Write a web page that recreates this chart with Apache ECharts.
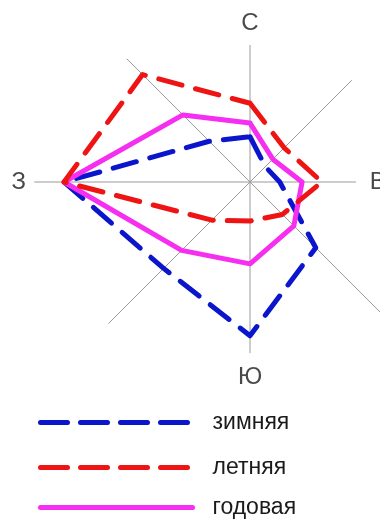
<!DOCTYPE html>
<html>
<head>
<meta charset="utf-8">
<script src="https://cdn.jsdelivr.net/npm/echarts@6/dist/echarts.min.js"></script>
<style>
html,body{margin:0;padding:0;background:#fff;}
#chart{width:380px;height:519px;}
</style>
</head>
<body>
<div id="chart"></div>
<script>
// ---- data ----
const directions = ['С', 'СВ', 'В', 'ЮВ', 'Ю', 'ЮЗ', 'З', 'СЗ'];
const directionAngles = [0, 45, 90, 135, 180, 225, 270, 315];
const seriesNames = ['зимняя', 'летняя', 'годовая'];
const winter = [7.3, 3.5, 4.8, 15.0, 24.8, 19.7, 30.0, 9.3];
const summer = [12.7, 7.8, 11.6, 7.4, 6.3, 8.7, 30.0, 24.5];
const annual = [9.5, 5.2, 8.4, 10.0, 13.2, 15.6, 30.0, 15.3];
const compassLabels = ['С', 'В', 'Ю', 'З'];
const compassAngles = [0, 90, 180, 270];

// ---- layout (axis spokes and label radii, in radius-axis units) ----
const spokeLength = [22.1, 23.2, 17.1, 30.7, 27.6, 32.3, 34.8, 28.1];
const labelRadius = [25.6, 20.6, 31.5, 37.3];

const FONT = "'Liberation Sans', Arial, sans-serif";
const colors = ['#0b16cc', '#ee1414', '#f52ef0'];
const dashType = [[24, 14], [24, 14], 'solid'];
const values = [winter, summer, annual];

function closed(arr) {
  const pts = arr.map((v, i) => [v, directionAngles[i]]);
  pts.push([arr[0], 360]);
  return pts;
}

const series = [];
// spokes
directionAngles.forEach((a, i) => {
  series.push({
    type: 'line', coordinateSystem: 'polar', silent: true, symbol: 'none',
    clip: false, z: 1,
    lineStyle: { color: '#9a9a9a', width: 1 },
    data: [[0, a], [spokeLength[i], a]]
  });
});
// compass labels
series.push({
  type: 'scatter', coordinateSystem: 'polar', silent: true, clip: false,
  symbolSize: 2, itemStyle: { color: 'rgba(0,0,0,0)' }, z: 5,
  label: { show: true, position: 'inside', formatter: '{b}', color: '#1a1a1a', fontSize: 24, fontFamily: FONT },
  data: compassLabels.map((c, i) => ({ name: c, value: [labelRadius[i], compassAngles[i]] }))
});
// data lines: winter, annual, summer (summer drawn on top)
[0, 2, 1].forEach(k => {
  series.push({
    name: seriesNames[k], type: 'line', coordinateSystem: 'polar',
    symbol: 'none', clip: false, z: 3,
    lineStyle: { color: colors[k], width: 5, type: dashType[k], cap: 'round', join: 'round' },
    itemStyle: { color: colors[k] },
    data: closed(values[k])
  });
});

const legendTops = [411, 456, 496];
const legends = seriesNames.map((n, k) => ({
  data: [{ name: n }],
  left: 38, top: legendTops[k], padding: 0,
  itemWidth: 152, itemHeight: 24,
  itemStyle: { opacity: 0 },
  lineStyle: { width: 5, type: k < 2 ? [27, 13] : 'solid', cap: 'round' },
  textStyle: { fontSize: 23, fontFamily: FONT, color: '#1a1a1a', padding: [0, 0, 0, 15] },
  selectedMode: false
}));

const chart = echarts.init(document.getElementById('chart'), null, { renderer: 'canvas' });
chart.setOption({
  animation: false,
  backgroundColor: '#fff',
  polar: { center: [250, 182], radius: 248 },
  angleAxis: {
    type: 'value', min: 0, max: 360, startAngle: 90, clockwise: true,
    axisLine: { show: false }, axisTick: { show: false }, axisLabel: { show: false }, splitLine: { show: false }
  },
  radiusAxis: {
    type: 'value', min: 0, max: 40,
    axisLine: { show: false }, axisTick: { show: false }, axisLabel: { show: false }, splitLine: { show: false }
  },
  legend: legends,
  series: series
});
</script>
</body>
</html>
